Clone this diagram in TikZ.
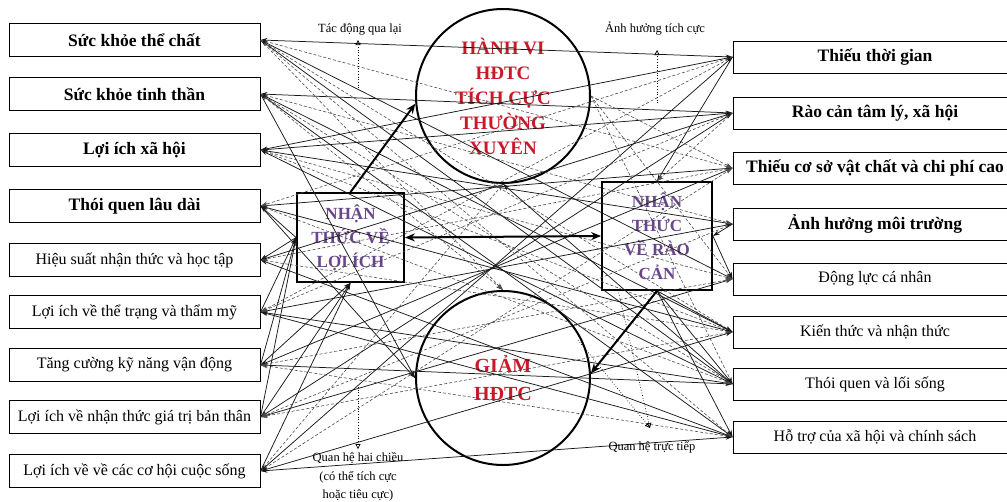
\documentclass[tikz,border=0pt]{standalone}
\usepackage{fontspec}
\setmainfont{Liberation Serif}
\usepackage{xcolor}
\usepackage{tikz}
\usetikzlibrary{arrows.meta, positioning}
\definecolor{hdred}{RGB}{200,25,40}
\definecolor{nhpurple}{RGB}{105,70,140}

\begin{document}
\begin{tikzpicture}[x=1pt, y=-1pt,
  lbox/.style={draw, line width=1pt, minimum width=251pt, minimum height=33pt, inner sep=0pt,
               font=\fontsize{17.5}{19}\selectfont\bfseries},
  lboxn/.style={lbox, font=\fontsize{16}{18}\selectfont},
  rbox/.style={lbox, minimum width=284pt, minimum height=32pt},
  rboxn/.style={rbox, font=\fontsize{16}{18}\selectfont},
  ring/.style={circle, draw, line width=2pt, minimum size=174pt, inner sep=0pt, align=center,
               text=hdred},
  mbox/.style={draw, line width=1.8pt, inner sep=0pt, align=center, text=nhpurple,
               font=\fontsize{17}{24}\selectfont\bfseries},
  link/.style={{Stealth[length=7pt,width=4.5pt]}-{Stealth[length=7pt,width=4.5pt]}, line width=0.75pt, draw=black!90},
  slink/.style={-{Stealth[length=7pt,width=4.5pt]}, line width=0.75pt, draw=black!90},
  dlink/.style={-{Stealth[length=7pt,width=4.5pt]}, densely dashed, line width=0.6pt, draw=black!70},
  bigarr/.style={-{Stealth[length=10pt,width=8pt]}, line width=2pt},
  note/.style={font=\fontsize{12.5}{15}\selectfont, align=center},
  noteptr/.style={-{Triangle[open,length=5pt,width=5pt]}, dotted, line width=0.7pt}]

  \useasboundingbox (0,0) rectangle (1007,501);

  % Benefit boxes on the left, top to bottom
  \node[lbox]  (L1) at (134.5,40)  {Sức khỏe thể chất};
  \node[lbox]  (L2) at (134.5,94)  {Sức khỏe tinh thần};
  \node[lbox]  (L3) at (134.5,150) {Lợi ích xã hội};
  \node[lbox]  (L4) at (134.5,206) {Thói quen lâu dài};
  \node[lboxn] (L5) at (134.5,260) {Hiệu suất nhận thức và học tập};
  \node[lboxn] (L6) at (134.5,312) {Lợi ích về thể trạng và thẩm mỹ};
  \node[lboxn] (L7) at (134.5,365) {Tăng cường kỹ năng vận động};
  \node[lboxn] (L8) at (134.5,417) {Lợi ích về nhận thức giá trị bản thân};
  \node[lboxn] (L9) at (134.5,471) {Lợi ích về về các cơ hội cuộc sống};

  % Barrier boxes on the right, top to bottom
  \node[rbox]  (R1) at (875,57)  {Thiếu thời gian};
  \node[rbox]  (R2) at (875,113) {Rào cản tâm lý, xã hội};
  \node[rbox]  (R3) at (875,168) {Thiếu cơ sở vật chất và chi phí cao};
  \node[rbox]  (R4) at (875,224) {Ảnh hưởng môi trường};
  \node[rboxn] (R5) at (875,279) {Động lực cá nhân};
  \node[rboxn] (R6) at (875,332) {Kiến thức và nhận thức};
  \node[rboxn] (R7) at (875,384) {Thói quen và lối sống};
  \node[rboxn] (R8) at (875,437) {Hỗ trợ của xã hội và chính sách};

  % Behaviour circles and perception boxes
  \node[ring, font=\fontsize{19}{25}\selectfont\bfseries] (HV) at (503,96)
    {HÀNH VI\\HĐTC\\TÍCH CỰC\\THƯỜNG\\XUYÊN};
  \node[ring, font=\fontsize{20}{28}\selectfont\bfseries] (GM) at (503,378)
    {GIẢM\\HĐTC};
  \node[mbox, minimum width=107pt, minimum height=89pt] (LI) at (350.5,237.5)
    {NHẬN\\THỨC VỀ\\LỢI ÍCH};
  \node[mbox, minimum width=110pt, minimum height=108pt] (RC) at (657,236)
    {NHẬN\\THỨC\\VỀ RÀO\\CẢN};

  % Web of links between the two columns
  \foreach \a/\b in {1/1,1/5,1/7,2/2,2/6,2/8,3/1,3/4,3/7,4/3,4/6,5/2,5/8,
                     6/4,6/7,7/3,7/7,8/5,8/2,9/1,9/8,9/6,3/2,6/8}
    \draw[link] (L\a.east) -- (R\b.west);
  \foreach \a/\b in {1/3,1/6,2/4,3/5,4/7,5/6,7/5,9/3,2/7,1/8,3/6}
    \draw[dlink] (L\a.east) -- (R\b.west);
  \foreach \a/\b in {4/1,6/1,8/4,5/3,7/8,6/2,8/6}
    \draw[dlink] (R\b.west) -- (L\a.east);

  % Links into the circles
  \draw[dlink] (L1.east) -- (GM.north);
  \draw[dlink] (L2.east) -- (GM.north);
  \draw[slink] (L2.east) -- (GM.west);
  \draw[slink] (L4.east) -- (GM.west);
  \draw[slink] (R7.west) -- (HV.south);
  \draw[dlink] (L9.east) -- (HV.south);
  \draw[dlink] (HV.east) -- (R3.west);
  \draw[dlink] (HV.east) -- (R5.west);
  \draw[dlink] (HV.east) -- (R7.west);

  % Links around the two perception boxes
  \draw[slink] (LI.west) -- (L4.east);
  \draw[slink] (LI.west) -- (L5.east);
  \foreach \a in {6,7,8}
    \draw[slink] (L\a.east) -- (LI.west);
  \foreach \a in {7,8,9}
    \draw[slink] (L\a.east) -- (LI.south);
  \foreach \b in {6,7,8}
    \draw[slink] (RC.south) -- (R\b.west);
  \draw[slink] (RC.east) -- (R5.west);
  \draw[slink] (R4.west) -- (RC.east);
  \draw[slink] (R1.west) -- (RC.north);
  \draw[dlink] (R2.west) -- (RC.north);

  % Thick main arrows
  \draw[bigarr] (LI.north) -- (HV.185);
  \draw[bigarr, {Stealth[length=10pt,width=8pt]}-{Stealth[length=10pt,width=8pt]}] (LI.east) -- (RC.west);
  \draw[bigarr] (RC.south) -- (GM.3);

  % Legend notes with dotted pointers
  \node[note] (N1) at (360,29) {Tác động qua lại};
  \coordinate (N1a) at (358,88);
  \draw[noteptr] (N1a) -- (358,40);
  \node[note] (N2) at (655,29) {Ảnh hưởng tích cực};
  \coordinate (N2a) at (657,103);
  \draw[noteptr] (N2a) -- (657,50);
  \node[note, font=\fontsize{12.5}{18.5}\selectfont] (N3) at (358,477)
    {Quan hệ hai chiều\\(có thể tích cực\\hoặc tiêu cực)};
  \coordinate (N3a) at (358,387);
  \draw[noteptr] (N3a) -- (N3.north);
  \node[note] (N4) at (652,447) {Quan hệ trực tiếp};
  \coordinate (N4a) at (618,290);
  \coordinate (N4b) at (578,340);
  \draw[noteptr] (N4a) -- (650,428);
  \draw[noteptr] (N4b) -- (650,428);
\end{tikzpicture}
\end{document}
